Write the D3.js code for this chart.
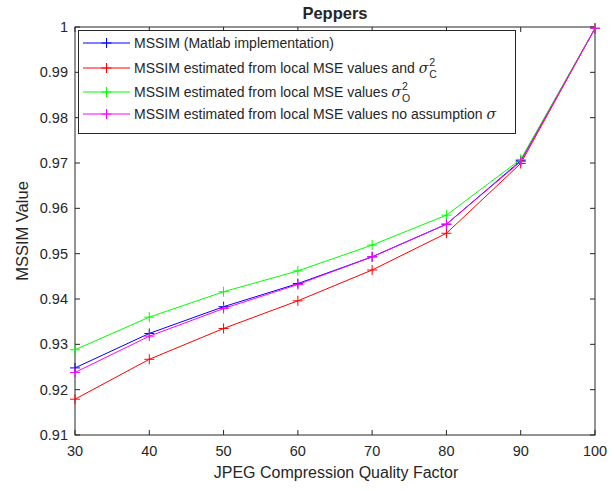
<!DOCTYPE html>
<html>
<head>
<meta charset="utf-8">
<script src="https://cdn.jsdelivr.net/npm/d3@7"></script>
<style>
body { margin: 0; background: #fff; }
text { font-family: "Liberation Sans", Arial, sans-serif; fill: #262626; }
</style>
</head>
<body>
<svg id="chart" width="616" height="491"></svg>
<script>
var width = 616, height = 491;
var margin = {top: 27, right: 21, bottom: 56, left: 75};
var w = width - margin.left - margin.right;
var h = height - margin.top - margin.bottom;

// data
var quality = [30, 40, 50, 60, 70, 80, 90, 100];
var matlab   = [0.9248, 0.9324, 0.9383, 0.9434, 0.9493, 0.9565, 0.9705, 0.9997];
var withC    = [0.9179, 0.9267, 0.9335, 0.9396, 0.9464, 0.9545, 0.9699, 0.9997];
var withO    = [0.9288, 0.9360, 0.9416, 0.9462, 0.9519, 0.9585, 0.9708, 0.9997];
var noAssume = [0.9238, 0.9318, 0.9379, 0.9432, 0.9493, 0.9565, 0.9703, 0.9997];
var xTicks = [30, 40, 50, 60, 70, 80, 90, 100];
var yTicks = [0.91, 0.92, 0.93, 0.94, 0.95, 0.96, 0.97, 0.98, 0.99, 1];

var series = [
    {name: "MSSIM (Matlab implementation)", values: matlab, color: "#0000ff"},
    {name: "MSSIM estimated from local MSE values and ", sym: "C", values: withC, color: "#ff0000"},
    {name: "MSSIM estimated from local MSE values ", sym: "O", values: withO, color: "#00ff00"},
    {name: "MSSIM estimated from local MSE values no assumption ", sym: "", values: noAssume, color: "#ff00ff"}
];

var svg = d3.select("#chart");
var g = svg.append("g").attr("transform", "translate(" + margin.left + "," + margin.top + ")");

var x = d3.scaleLinear().domain([30, 100]).range([0, w]);
var y = d3.scaleLinear().domain([0.91, 1]).range([h, 0]);

var axisColor = "#262626";
var tickLen = 5;

// frame
g.append("rect").attr("width", w).attr("height", h)
    .attr("fill", "none").attr("stroke", axisColor).attr("stroke-width", 1);

// ticks (inward, on all four sides)
xTicks.forEach(function(t) {
    g.append("line").attr("x1", x(t)).attr("x2", x(t)).attr("y1", h).attr("y2", h - tickLen).attr("stroke", axisColor);
    g.append("line").attr("x1", x(t)).attr("x2", x(t)).attr("y1", 0).attr("y2", tickLen).attr("stroke", axisColor);
    g.append("text").attr("x", x(t)).attr("y", h + 21).attr("text-anchor", "middle")
        .style("font-size", "14.5px").text(t);
});
yTicks.forEach(function(t) {
    g.append("line").attr("x1", 0).attr("x2", tickLen).attr("y1", y(t)).attr("y2", y(t)).attr("stroke", axisColor);
    g.append("line").attr("x1", w).attr("x2", w - tickLen).attr("y1", y(t)).attr("y2", y(t)).attr("stroke", axisColor);
    g.append("text").attr("x", -7).attr("y", y(t) + 5).attr("text-anchor", "end")
        .style("font-size", "14.5px").text(d3.format("~g")(t));
});

// labels
g.append("text").attr("x", w / 2 + 1).attr("y", h + 43).attr("text-anchor", "middle")
    .style("font-size", "16px").text("JPEG Compression Quality Factor");
g.append("text").attr("transform", "rotate(-90)").attr("x", -h / 2).attr("y", -47)
    .attr("text-anchor", "middle").style("font-size", "16.5px").text("MSSIM Value");
g.append("text").attr("x", w / 2).attr("y", -8).attr("text-anchor", "middle")
    .style("font-size", "16.5px").style("font-weight", "bold").text("Peppers");

var line = d3.line()
    .x(function(d, i) { return x(quality[i]); })
    .y(function(d) { return y(d); });

function plus(sel, cx, cy, color) {
    sel.append("path")
        .attr("d", "M" + (cx - 5) + "," + cy + "H" + (cx + 5) + "M" + cx + "," + (cy - 5) + "V" + (cy + 5))
        .attr("stroke", color).attr("stroke-width", 1).attr("fill", "none");
}

series.forEach(function(s) {
    g.append("path").datum(s.values).attr("d", line)
        .attr("fill", "none").attr("stroke", s.color).attr("stroke-width", 1);
    s.values.forEach(function(v, i) { plus(g, x(quality[i]), y(v), s.color); });
});

// legend
var leg = svg.append("g");
leg.append("rect").attr("x", 78.5).attr("y", 30.5).attr("width", 437).attr("height", 103)
    .attr("fill", "#fff").attr("stroke", axisColor).attr("stroke-width", 1);
var legY = [43, 68, 92, 114];
series.forEach(function(s, i) {
    var ly = legY[i];
    leg.append("line").attr("x1", 83).attr("x2", 130).attr("y1", ly).attr("y2", ly)
        .attr("stroke", s.color).attr("stroke-width", 1);
    plus(leg, 106.5, ly, s.color);
    var t = leg.append("text").attr("x", 134).attr("y", ly + 5).style("font-size", "14px");
    t.append("tspan").text(s.name);
    if (s.sym !== undefined) {
        t.append("tspan").style("font-family", "DejaVu Serif").style("font-style", "italic").text("\u03c3");
        if (s.sym !== "") {
            var tx = t.node().getComputedTextLength() + 134;
            leg.append("text").attr("x", tx + 1).attr("y", ly - 2).style("font-size", "10.5px").text("2");
            leg.append("text").attr("x", tx + 1).attr("y", ly + 10).style("font-size", "10.5px").text(s.sym);
        }
    }
});
</script>
</body>
</html>
